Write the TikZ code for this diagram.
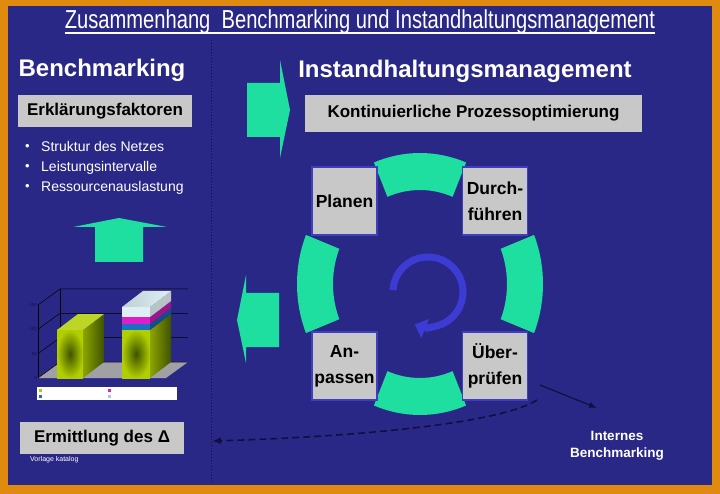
\documentclass[tikz,border=0pt]{standalone}
\usepackage{fontspec}
\setmainfont{Liberation Sans}
\newfontfamily\narrowfont[FakeStretch=0.775]{Liberation Sans}
\usetikzlibrary{arrows.meta,calc}

\definecolor{bgblue}{RGB}{42,40,135}
\definecolor{frameorange}{RGB}{224,138,16}
\definecolor{arrowteal}{RGB}{30,222,160}
\definecolor{boxgrey}{RGB}{200,200,200}
\definecolor{stepblue}{RGB}{62,62,190}
\definecolor{circleblue}{RGB}{60,60,212}
\definecolor{darknavy}{RGB}{16,16,64}
\definecolor{barlime}{RGB}{176,206,0}
\definecolor{barolive}{RGB}{62,82,0}
\definecolor{barblue}{RGB}{28,112,196}
\definecolor{barmagenta}{RGB}{222,30,200}
\definecolor{barpale}{RGB}{222,240,246}
\definecolor{floorgrey}{RGB}{160,160,165}

\begin{document}
\begin{tikzpicture}[x=1pt, y=-1pt,
    greybox/.style = {fill=boxgrey, text=black, minimum height=32pt, inner sep=0pt, font=\bfseries\fontsize{17}{20}\selectfont},
    stepbox/.style = {fill=boxgrey, draw=stepblue, line width=1.5pt, text=black, minimum width=65pt, minimum height=68pt, inner sep=0pt, align=center, font=\bfseries\fontsize{17.5}{26}\selectfont},
    heading/.style = {text=white, inner sep=0pt, anchor=base, font=\bfseries\fontsize{24}{28}\selectfont},
    bullet/.style = {text=white, inner sep=0pt, anchor=base west, font=\fontsize{14}{17}\selectfont},
    blockarrow/.style = {fill=arrowteal},
    ringpart/.style = {fill=arrowteal},
    gridline/.style = {draw=black, line width=0.5pt}]

    \useasboundingbox (0,0) rectangle (720,494);
    \fill[frameorange] (0,0) rectangle (720,494);
    \fill[bgblue] (8,6) rectangle (712,485);

    % title
    \node[text=white, inner sep=0pt, anchor=base, font=\narrowfont\fontsize{26}{30}\selectfont] (title) at (360,29) {Zusammenhang\ \ Benchmarking und Instandhaltungsmanagement};
    \draw[white, line width=1.8pt] ([yshift=-4pt]title.base west) -- ([yshift=-4pt]title.base east);

    \draw[darknavy, dotted, line width=1pt] (211,40) -- (211,482);

    % left column
    \node[heading] (bm) at (102,77) {Benchmarking};
    \node[greybox, minimum width=174pt] (ef) at (105,111) {Erklärungsfaktoren};
    \foreach \y/\txt in {152/Struktur des Netzes, 172/Leistungsintervalle, 192/Ressourcenauslastung} {
        \node[bullet, font=\fontsize{13}{14}\selectfont] at (25,\y-1) {•};
        \node[bullet] at (41,\y) {\txt};
    }
    \fill[blockarrow] (95,262) -- (95,227) -- (73,227) -- (119,218) -- (167,227) -- (143,227) -- (143,262) -- cycle;

    % chart
    \fill[floorgrey] (38,378) -- (166,378) -- (188,362) -- (60,362) -- cycle;
    \draw[gridline] (38,378) -- (38,305);
    \draw[gridline] (60,362) -- (60,289);
    \foreach \t/\lab in {0/0, 50/50, 100/100, 150/150} {
        \pgfmathsetmacro{\ty}{378-\t*0.487}
        \draw[gridline] (38,\ty) -- (60,\ty-16) -- (188,\ty-16);
        \node[text=darknavy, anchor=east, inner sep=0pt, font=\fontsize{4.5}{5}\selectfont] at (37,\ty) {\lab};
    }
    % bar 1
    \shade[inner color=barolive, outer color=barlime] (57,330) rectangle (83,378);
    \shade[left color=barlime!80!black, right color=barolive] (83,378) -- (104,362) -- (104,314) -- (83,330) -- cycle;
    \fill[barlime!85!white] (57,330) -- (83,330) -- (104,314) -- (78,314) -- cycle;
    % bar 2
    \shade[inner color=barolive, outer color=barlime] (122,330) rectangle (150,378);
    \shade[left color=barlime!80!black, right color=barolive] (150,378) -- (171,362) -- (171,314) -- (150,330) -- cycle;
    \fill[barblue] (122,324) rectangle (150,330);
    \fill[barblue!70!black] (150,330) -- (171,314) -- (171,308) -- (150,324) -- cycle;
    \fill[barmagenta] (122,317) rectangle (150,324);
    \fill[barmagenta!70!black] (150,324) -- (171,308) -- (171,301) -- (150,317) -- cycle;
    \fill[barpale] (122,307) rectangle (150,317);
    \fill[barpale!60!gray] (150,317) -- (171,301) -- (171,291) -- (150,307) -- cycle;
    \shade[left color=barpale!70!gray, right color=barpale] (122,307) -- (150,307) -- (171,291) -- (143,291) -- cycle;
    % legend
    \fill[white] (37,387) rectangle (177,400);
    \foreach \lx/\ly/\col in {39/389/barlime, 39/395/barblue, 108/389/barmagenta, 108/395/barpale!60!gray}
        \fill[\col] (\lx,\ly) rectangle ++(3,3);

    \node[greybox, minimum width=164pt] (ed) at (102,438) {Ermittlung des Δ};
    \node[text=white, anchor=west, inner sep=0pt, font=\fontsize{7}{8}\selectfont] (vk) at (30,460) {Vorlage katalog};

    % right column
    \fill[blockarrow] (247,83) -- (280,83) -- (280,60) -- (290,110) -- (280,158) -- (280,137) -- (247,137) -- cycle;
    \node[heading] (ih) at (465,78) {Instandhaltungsmanagement};
    \node[greybox, minimum width=337pt, minimum height=37pt] (kp) at (473.5,113.5) {Kontinuierliche Prozessoptimierung};

    \fill[blockarrow] (279,293) -- (246,293) -- (246,275) -- (237,320) -- (246,363) -- (246,347) -- (279,347) -- cycle;

    % cycle
    \coordinate (c) at (420,284);
    \foreach \a [evaluate=\a as \s using \a-22, evaluate=\a as \e using \a+22] in {0,90,180,270}
        \fill[ringpart] ($(c)+(\s:123 and 131)$) arc[start angle=\s, end angle=\e, x radius=123, y radius=131]
            -- ($(c)+(\e:87 and 94)$) arc[start angle=\e, end angle=\s, x radius=87, y radius=94] -- cycle;

    \node[stepbox] (plan) at (344.5,201) {Planen};
    \node[stepbox] (do) at (495,201) {Durch-\\führen};
    \node[stepbox] (act) at (344.5,366) {An-\\passen};
    \node[stepbox] (check) at (495,366) {Über-\\prüfen};

    \coordinate (r) at (428,292);
    \draw[circleblue, line width=7pt, -{Triangle[length=11pt, width=20pt]}] ($(r)+(177:35pt)$) arc[start angle=177, end angle=-112, radius=35pt];

    \node[text=white, align=center, inner sep=0pt, font=\bfseries\fontsize{13.5}{17}\selectfont] (ib) at (617,446) {Internes\\Benchmarking};

    \coordinate (d1) at (537,400);
    \coordinate (d2) at (212,441);
    \coordinate (s1) at (540,385);
    \coordinate (s2) at (597,408);
    \draw[darknavy, dashed, line width=1.6pt, dash pattern=on 7pt off 4pt, -{Latex[length=9pt, width=7pt]}] (d1) .. controls (500,424) and (350,437) .. (d2);
    \draw[darknavy, line width=1.2pt, -{Latex[length=8pt, width=6pt]}] (s1) -- (s2);

\end{tikzpicture}
\end{document}
